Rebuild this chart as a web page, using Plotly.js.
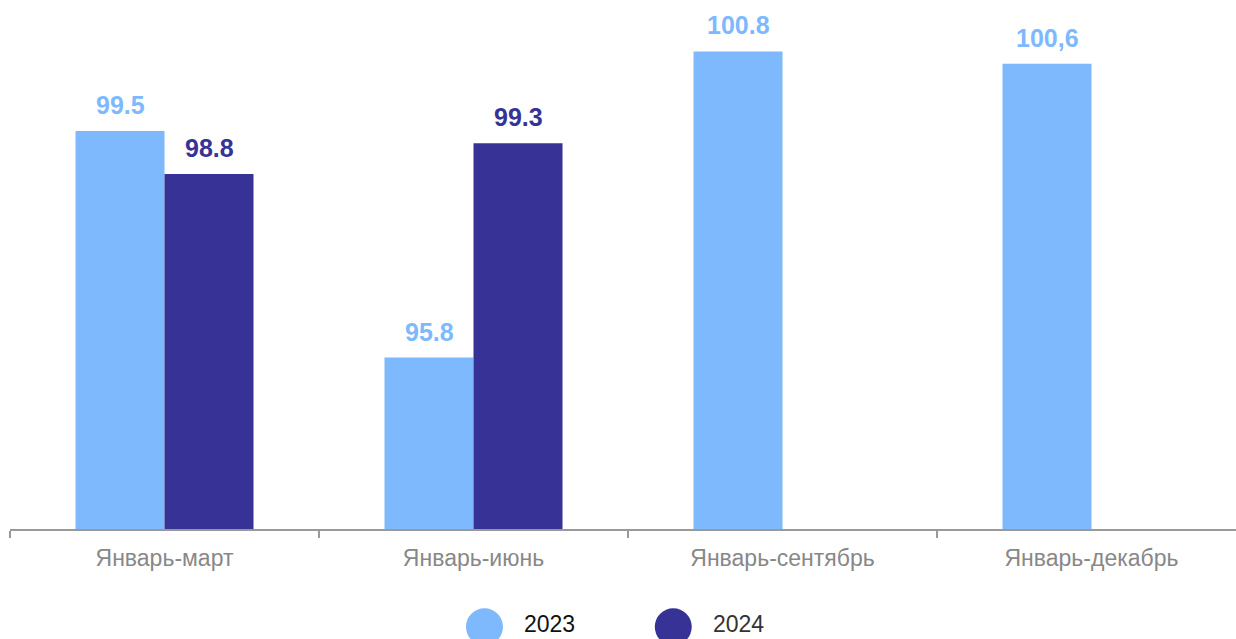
<!DOCTYPE html>
<html>
<head>
<meta charset="utf-8">
<script src="https://cdn.plot.ly/plotly-3.0.1.min.js"></script>
<style>html,body{margin:0;padding:0;background:#fff;overflow:hidden}#chart{width:1236px;height:639px}</style>
</head>
<body>
<div id="chart"></div>
<script>
const categories = ["Январь-март", "Январь-июнь", "Январь-сентябрь", "Январь-декабрь"];
const values2023 = [99.5, 95.8, 100.8, 100.6];
const values2024 = [98.8, 99.3, null, null];
const labels2023 = ["99.5", "95.8", "100.8", "100,6"];
const labels2024 = ["98.8", "99.3", "", ""];
const seriesNames = ["2023", "2024"];
const colors = ["#7db9fc", "#373296"];

const traces = [
  {type: "bar", name: seriesNames[0], x: categories, y: values2023, marker: {color: colors[0]}, hoverinfo: "x+y"},
  {type: "bar", name: seriesNames[1], x: categories, y: values2024, marker: {color: colors[1]}, hoverinfo: "x+y"}
];

const halfBar = 44.5;
const annotations = [];
categories.forEach((c, i) => {
  if (values2023[i] != null) annotations.push({x: c, y: values2023[i], xref: "x", yref: "y", text: labels2023[i], showarrow: false, xshift: -halfBar, yanchor: "bottom", yshift: 10, font: {family: "Arial, Liberation Sans, sans-serif", size: 25, color: colors[0], weight: "bold"}});
  if (values2024[i] != null) annotations.push({x: c, y: values2024[i], xref: "x", yref: "y", text: labels2024[i], showarrow: false, xshift: halfBar, yanchor: "bottom", yshift: 10, font: {family: "Arial, Liberation Sans, sans-serif", size: 25, color: colors[1], weight: "bold"}});
});

// custom legend
const legendX = [0.387, 0.541];
const shapes = [];
seriesNames.forEach((n, i) => {
  shapes.push({type: "circle", xref: "paper", yref: "paper", xsizemode: "pixel", ysizemode: "pixel", xanchor: legendX[i], yanchor: -0.185, x0: -18.5, x1: 18.5, y0: -18.5, y1: 18.5, fillcolor: colors[i], line: {width: 0}});
  annotations.push({xref: "paper", yref: "paper", x: legendX[i], y: -0.185, xshift: 38, xanchor: "left", yanchor: "middle", yshift: 3, text: n, showarrow: false, font: {family: "Arial, Liberation Sans, sans-serif", size: 23, color: i === 0 ? "#111" : "#333"}});
});

const layout = {
  width: 1236, height: 639,
  margin: {l: 10, r: 0, t: 0, b: 110},
  paper_bgcolor: "#fff", plot_bgcolor: "#fff",
  barmode: "group", bargap: 0.424, bargroupgap: 0,
  showlegend: false,
  xaxis: {
    type: "category", range: [-0.5, 3.4676],
    showline: true, linecolor: "#999", linewidth: 1.5,
    ticks: "outside", tickson: "boundaries", ticklen: 7, tickcolor: "#999", tickwidth: 1.5,
    ticklabelstandoff: 8,
    tickfont: {family: "Arial, Liberation Sans, sans-serif", size: 23, color: "#888"},
    showgrid: false, zeroline: false
  },
  yaxis: {range: [93, 101.64], visible: false, showgrid: false, zeroline: false},
  annotations: annotations,
  shapes: shapes
};

Plotly.newPlot("chart", traces, layout, {displayModeBar: false, staticPlot: true});
</script>
</body>
</html>
